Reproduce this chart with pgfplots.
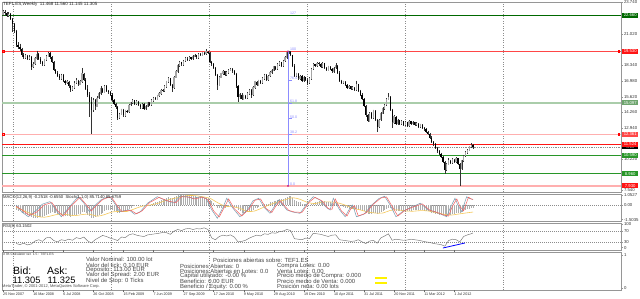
\documentclass[border=0pt]{standalone}
\usepackage{pgfplots}
\pgfplotsset{compat=1.18}
\usepackage{pgfplotstable}
\usepackage{fontspec}
\setmainfont{Liberation Sans}
\definecolor{dkgreen}{RGB}{0,105,0}
\definecolor{mgreen}{RGB}{40,150,40}
\definecolor{lgreen}{RGB}{170,205,170}
\definecolor{boxlgreen}{RGB}{110,165,110}
\definecolor{lred}{RGB}{255,175,175}
\definecolor{mred}{RGB}{255,70,70}
\definecolor{brred}{RGB}{255,20,20}
\definecolor{fibblue}{RGB}{140,140,255}
\definecolor{frame}{RGB}{150,150,150}
\definecolor{upgray}{RGB}{165,165,165}
\definecolor{stochblue}{RGB}{120,155,175}
\definecolor{stochred}{RGB}{245,95,95}
\definecolor{sigyellow}{RGB}{245,200,90}
\newcommand\fs[1]{\fontsize{#1}{#1}\selectfont}

\pgfplotstableread{
w o h l c
0 22.70 23.10 22.55 22.95
1 22.95 23.05 22.70 22.80
2 22.80 22.90 22.45 22.60
3 22.60 22.90 22.50 22.75
4 22.75 22.85 22.20 22.30
5 22.30 22.40 21.20 21.90
6 21.90 22.00 21.10 21.30
7 21.30 21.40 19.90 20.10
8 20.10 20.30 19.70 19.90
9 19.90 20.20 19.60 19.75
10 19.75 19.85 19.05 19.20
11 19.20 19.35 18.85 19.00
12 19.00 19.30 18.90 19.15
13 19.15 19.25 18.75 18.90
14 18.90 19.20 18.80 19.05
15 19.05 19.10 17.90 18.20
16 18.20 18.60 18.05 18.45
17 18.45 19.00 18.35 18.90
18 18.90 19.60 18.80 19.30
19 19.30 19.40 18.80 18.90
20 18.90 19.00 18.45 18.60
21 18.60 18.70 18.25 18.40
22 18.40 18.90 18.30 18.80
23 18.80 19.20 18.70 19.10
24 19.10 19.50 19.00 19.35
25 19.35 19.45 18.90 19.00
26 19.00 19.10 18.50 18.60
27 18.60 18.70 17.80 17.90
28 17.90 18.00 17.55 17.70
29 17.70 17.80 17.30 17.40
30 17.40 17.55 17.05 17.20
31 17.20 17.60 17.10 17.45
32 17.45 17.55 16.90 17.00
33 17.00 17.10 16.65 16.80
34 16.80 17.05 16.70 16.90
35 16.90 17.00 16.35 16.50
36 16.50 16.60 16.00 16.20
37 16.20 16.55 16.10 16.40
38 16.40 16.95 16.30 16.80
39 16.80 17.20 16.70 17.00
40 17.00 17.10 16.55 16.70
41 16.70 17.05 16.60 16.90
42 16.90 18.10 16.80 17.60
43 17.60 17.70 16.95 17.10
44 17.10 17.20 16.20 16.30
45 16.30 16.60 15.60 15.80
46 15.80 16.00 13.90 15.20
47 15.20 15.60 12.40 14.50
48 14.50 15.50 14.30 15.30
49 15.30 15.40 14.50 14.80
50 14.80 15.70 14.70 15.50
51 15.50 16.00 15.40 15.90
52 15.90 16.50 15.80 16.30
53 16.30 16.40 15.90 16.00
54 16.00 16.60 15.90 16.50
55 16.50 16.60 16.00 16.10
56 16.10 16.20 15.85 16.00
57 16.00 16.10 15.70 15.80
58 15.80 15.90 15.20 15.30
59 15.30 15.40 14.90 15.00
60 15.00 15.10 14.60 14.70
61 14.70 14.80 13.60 13.80
62 13.80 14.25 13.70 14.10
63 14.10 14.60 14.00 14.50
64 14.50 14.60 13.90 14.00
65 14.00 14.50 13.90 14.40
66 14.40 14.50 14.20 14.30
67 14.30 15.00 14.20 14.90
68 14.90 15.20 14.80 15.10
69 15.10 15.40 15.00 15.30
70 15.30 15.35 14.90 15.00
71 15.00 15.30 14.90 15.20
72 15.20 15.25 14.80 14.90
73 14.90 15.00 14.60 14.70
74 14.70 15.10 14.60 15.00
75 15.00 15.05 14.50 14.60
76 14.60 14.90 14.50 14.80
77 14.80 15.20 14.70 15.10
78 15.10 15.15 14.80 14.90
79 14.90 15.40 14.80 15.30
80 15.30 15.60 15.20 15.50
81 15.50 15.60 15.30 15.40
82 15.40 15.80 15.30 15.70
83 15.70 16.00 15.60 15.90
84 15.90 16.30 15.80 16.20
85 16.20 16.30 16.00 16.10
86 16.10 16.60 16.00 16.50
87 16.50 17.00 16.40 16.90
88 16.90 17.30 16.80 17.20
89 17.20 17.25 16.50 16.60
90 16.60 16.70 16.00 16.40
91 16.40 17.40 16.30 17.30
92 17.30 17.90 17.20 17.80
93 17.80 18.40 17.70 18.30
94 18.30 18.70 18.20 18.60
95 18.60 18.65 18.30 18.40
96 18.40 18.80 18.30 18.70
97 18.70 19.00 18.60 18.90
98 18.90 19.00 18.70 18.80
99 18.80 19.10 18.70 19.00
100 19.00 19.05 18.80 18.90
101 18.90 19.20 18.80 19.10
102 19.10 19.30 19.00 19.20
103 19.20 19.25 18.90 19.00
104 19.00 19.40 18.90 19.30
105 19.30 19.35 19.10 19.20
106 19.20 19.50 19.10 19.40
107 19.40 19.45 19.20 19.30
108 19.30 19.70 19.20 19.50
109 19.50 19.60 19.30 19.40
110 19.40 19.45 18.50 18.60
111 18.60 18.70 18.30 18.40
112 18.40 18.50 18.00 18.10
113 18.10 18.20 17.40 17.50
114 17.50 17.60 16.20 16.60
115 16.60 17.40 16.50 17.30
116 17.30 17.70 17.20 17.60
117 17.60 17.90 17.50 17.80
118 17.80 17.85 17.40 17.50
119 17.50 17.80 17.40 17.70
120 17.70 18.00 17.60 17.90
121 17.90 18.10 17.80 18.00
122 18.00 18.05 17.70 17.80
123 17.80 17.90 17.50 17.60
124 17.60 17.70 16.40 16.50
125 16.50 16.60 15.20 15.60
126 15.60 15.90 15.40 15.80
127 15.80 15.90 15.30 15.40
128 15.40 15.80 15.30 15.70
129 15.70 15.80 15.40 15.50
130 15.50 16.00 15.40 15.90
131 15.90 16.30 15.80 16.20
132 16.20 16.25 15.50 15.80
133 15.80 16.50 15.70 16.40
134 16.40 17.00 16.30 16.90
135 16.90 16.95 16.50 16.60
136 16.60 17.10 16.50 17.00
137 17.00 17.05 16.70 16.80
138 16.80 17.30 16.70 17.20
139 17.20 17.60 17.10 17.50
140 17.50 17.55 17.00 17.10
141 17.10 17.50 17.00 17.40
142 17.40 17.80 17.30 17.70
143 17.70 18.00 17.60 17.90
144 17.90 18.30 17.80 18.20
145 18.20 18.25 17.90 18.00
146 18.00 18.50 17.90 18.40
147 18.40 18.70 18.30 18.60
148 18.60 18.65 18.20 18.30
149 18.30 18.80 18.20 18.70
150 18.70 19.10 18.60 19.00
151 19.00 19.50 18.90 19.40
152 19.40 19.60 19.30 19.50
153 19.50 19.55 19.10 19.20
154 19.20 19.25 18.20 18.30
155 18.30 18.40 17.30 17.40
156 17.40 17.70 17.30 17.60
157 17.60 17.65 17.10 17.20
158 17.20 17.50 17.10 17.40
159 17.40 17.45 16.90 17.00
160 17.00 17.40 16.90 17.30
161 17.30 17.35 17.00 17.10
162 17.10 17.20 16.60 16.80
163 16.80 17.30 16.70 17.20
164 17.20 18.10 17.10 18.00
165 18.00 18.50 17.90 18.40
166 18.40 18.45 18.20 18.30
167 18.30 18.60 18.20 18.50
168 18.50 18.60 18.30 18.40
169 18.40 18.50 18.10 18.20
170 18.20 18.60 18.10 18.50
171 18.50 18.55 18.00 18.10
172 18.10 18.20 17.80 17.90
173 17.90 18.30 17.80 18.20
174 18.20 18.25 17.90 18.00
175 18.00 18.10 17.70 17.80
176 17.80 18.20 17.70 18.10
177 18.10 18.50 18.00 18.30
178 18.30 18.35 17.60 17.70
179 17.70 17.80 16.90 17.00
180 17.00 17.10 16.70 16.80
181 16.80 17.00 16.70 16.90
182 16.90 16.95 16.50 16.60
183 16.60 16.70 16.30 16.40
184 16.40 16.60 16.30 16.50
185 16.50 16.55 16.20 16.30
186 16.30 16.50 16.20 16.40
187 16.40 16.45 16.10 16.20
188 16.20 17.00 16.10 16.70
189 16.70 16.75 16.00 16.10
190 16.10 16.20 15.70 15.80
191 15.80 15.90 15.30 15.40
192 15.40 15.50 14.70 14.80
193 14.80 14.90 13.90 14.00
194 14.00 14.10 13.40 13.50
195 13.50 14.30 13.40 14.20
196 14.20 14.30 13.70 13.80
197 13.80 14.50 13.70 14.40
198 14.40 14.45 13.50 13.60
199 13.60 13.70 12.60 13.00
200 13.00 13.70 12.90 13.60
201 13.60 14.30 13.50 14.20
202 14.20 14.70 14.10 14.60
203 14.60 15.00 14.50 14.90
204 14.90 15.50 14.80 15.40
205 15.40 15.90 15.30 15.60
206 15.60 15.65 14.40 14.50
207 14.50 14.60 12.90 13.40
208 13.40 14.00 13.30 13.90
209 13.90 13.95 13.20 13.30
210 13.30 13.70 13.20 13.60
211 13.60 13.65 13.20 13.30
212 13.30 13.60 13.20 13.50
213 13.50 13.55 13.10 13.20
214 13.20 13.50 13.10 13.40
215 13.40 13.45 13.00 13.10
216 13.10 13.60 13.00 13.50
217 13.50 13.55 13.20 13.30
218 13.30 13.50 13.20 13.40
219 13.40 13.45 13.10 13.20
220 13.20 13.40 13.10 13.30
221 13.30 13.35 12.90 13.00
222 13.00 13.30 12.90 13.20
223 13.20 13.25 12.80 12.90
224 12.90 13.00 12.70 12.80
225 12.80 12.90 12.50 12.60
226 12.60 12.70 12.30 12.40
227 12.40 12.50 12.00 12.10
228 12.10 12.20 11.60 11.70
229 11.70 11.80 11.40 11.50
230 11.50 11.60 11.10 11.20
231 11.20 11.30 10.80 10.90
232 10.90 11.00 10.60 10.70
233 10.70 10.80 10.30 10.40
234 10.40 10.50 9.90 10.00
235 10.00 10.10 8.95 9.30
236 9.30 9.90 9.20 9.80
237 9.80 10.30 9.70 10.10
238 10.10 10.20 9.80 9.90
239 9.90 10.30 9.80 10.20
240 10.20 10.25 9.90 10.00
241 10.00 10.40 9.90 10.30
242 10.30 10.35 9.70 9.80
243 9.80 9.90 7.93 9.40
244 9.40 10.20 9.30 10.10
245 10.10 10.60 10.00 10.50
246 10.50 10.90 10.40 10.80
247 10.80 11.10 10.70 11.00
248 11.00 11.40 10.90 11.30
249 11.30 11.60 11.20 11.468
250 11.468 11.560 11.145 11.305
}\price

\pgfplotsset{panel/.style={
  scale only axis, width=619pt, xmin=-0.53, xmax=328.72, clip=false,
  axis line style={frame},
  xtick={5.3,57.6,109.7,161.9,214,266.3}, xticklabels={},
  xmajorgrids, major grid style={black!45, dash pattern=on 0.8pt off 1.6pt},
  xtick style={draw=none},
  ytick pos=right, yticklabel pos=right, tick align=outside,
  ytick style={draw=frame}, major tick length=2pt,
  yticklabel style={font=\fs{4.3}, text=black!80, inner sep=0.8pt},
}}

\begin{document}
\begin{tikzpicture}
\useasboundingbox (0,0) rectangle (640pt,299pt);
\fill[white] (0,0) rectangle (640pt,299pt);

% ---------------- main price panel
\begin{axis}[panel, at={(2pt,107pt)}, anchor=south west, height=190pt,
  ymin=7.404, ymax=23.783,
  ytick={23.74,21.02,18.34,16.98,15.62,14.26,12.94,10.22,7.54},
  yticklabels={23.740,21.020,18.340,16.980,15.620,14.260,12.940,10.220,7.540}]
% horizontal levels
\addplot[draw=lgreen, line width=1.8pt] coordinates {(-0.53,15.097) (328.72,15.097)};
\addplot[draw=lred, line width=1.8pt] coordinates {(-0.53,12.361) (328.72,12.361)};
\addplot[draw=lred, line width=1.8pt] coordinates {(-0.53,7.93) (328.72,7.93)};
\addplot[draw=dkgreen, line width=1pt] coordinates {(-0.53,22.66) (328.72,22.66)};
\addplot[draw=mred, line width=1.4pt] coordinates {(-0.53,19.53) (328.72,19.53)};
\addplot[draw=brred, line width=1.2pt] coordinates {(-0.53,11.524) (328.72,11.524)};
\addplot[draw=mgreen, line width=1pt] coordinates {(-0.53,10.59) (328.72,10.59)};
\addplot[draw=mgreen, line width=1pt] coordinates {(-0.53,8.96) (328.72,8.96)};
\addplot[draw=black!45, dash pattern=on 0.8pt off 1pt, line width=0.45pt] coordinates {(-0.53,11.305) (328.72,11.305)};
\addplot[only marks, mark=square, mark size=0.9pt, red, mark options={line width=0.5pt}] coordinates {(0,19.53) (327.5,19.53) (0,12.361) (327.5,12.361)};
% wicks
\addplot[draw=none, mark=none, error bars/.cd, y dir=minus, y explicit, error mark=none,
  error bar style={draw=black!80, line width=0.45pt}]
  table[x=w, y=h, y error minus expr=\thisrow{h}-\thisrow{l}]{\price};
% up bodies
\addplot[draw=none, mark=none, error bars/.cd, y dir=minus, y explicit, error mark=none,
  error bar style={draw=upgray, line width=1.2pt}]
  table[x=w, y expr=\thisrow{c}+0.03, y error minus expr={\thisrow{c}>=\thisrow{o} ? \thisrow{c}-\thisrow{o}+0.06 : 0}]{\price};
% down bodies
\addplot[draw=none, mark=none, error bars/.cd, y dir=minus, y explicit, error mark=none,
  error bar style={draw=black, line width=1.2pt}]
  table[x=w, y=o, y error minus expr={\thisrow{o}>\thisrow{c} ? \thisrow{o}-\thisrow{c} : 0}]{\price};
% fibonacci
\addplot[draw=fibblue, line width=0.4pt] coordinates {(151.6,19.53) (151.6,7.93)};
\addplot[draw=fibblue, line width=0.35pt] coordinates {(151.6,17.03) (153.6,17.03)};
\addplot[draw=fibblue, line width=0.35pt] coordinates {(151.6,15.10) (153.6,15.10)};
\addplot[draw=fibblue, line width=0.35pt] coordinates {(151.6,13.73) (153.6,13.73)};
\addplot[draw=fibblue, line width=0.35pt] coordinates {(151.6,12.36) (153.6,12.36)};
\addplot[only marks, mark=*, mark size=0.7pt, magenta!80!black] coordinates {(151.6,19.53) (151.6,7.93)};
\node[font=\fs{3.6}, text=fibblue, anchor=south west, inner sep=0.3pt] at (axis cs:152.5,22.66) {127};
\node[font=\fs{3.6}, text=fibblue, anchor=south west, inner sep=0.3pt] at (axis cs:152.5,19.53) {100};
\node[font=\fs{3.6}, text=fibblue, anchor=south west, inner sep=0.3pt] at (axis cs:152.5,17.03) {76.4};
\node[font=\fs{3.6}, text=fibblue, anchor=south west, inner sep=0.3pt] at (axis cs:152.5,15.10) {61.8};
\node[font=\fs{3.6}, text=fibblue, anchor=south west, inner sep=0.3pt] at (axis cs:152.5,13.73) {50.0};
\node[font=\fs{3.6}, text=fibblue, anchor=south west, inner sep=0.3pt] at (axis cs:152.5,12.36) {38.2};
\node[font=\fs{3.6}, text=fibblue, anchor=south west, inner sep=0.3pt] at (axis cs:152.5,7.93) {0.0};
% price boxes
\tikzset{pbox/.style={fill=#1, text=white, font=\fs{4.2}, inner sep=0.4pt, anchor=west, minimum width=16pt, minimum height=5pt, xshift=1pt}}
\node[pbox=dkgreen] at (axis cs:328.72,22.66) {22.660};
\node[pbox=brred] at (axis cs:328.72,19.53) {19.530};
\node[pbox=boxlgreen] at (axis cs:328.72,15.097) {15.097};
\node[pbox=mred] at (axis cs:328.72,12.361) {12.361};
\node[pbox=black, minimum height=3pt, font=\fs{2.5}] at (axis cs:328.72,11.23) {11.305};
\node[pbox=brred] at (axis cs:328.72,11.524) {11.524};
\node[pbox=mgreen] at (axis cs:328.72,10.59) {10.590};
\node[pbox=mgreen] at (axis cs:328.72,8.96) {8.960};
\node[pbox=brred] at (axis cs:328.72,7.93) {7.930};
\end{axis}

% ---------------- MACD panel
\begin{axis}[panel, at={(2pt,78pt)}, anchor=south west, height=27pt,
  ymin=-1.5035, ymax=1.0527,
  ytick={0.93,0,-1.37}, yticklabels={1.0527,0.00,-1.5035}]
\addplot[draw=black!45, dash pattern=on 0.8pt off 1.2pt, line width=0.4pt] coordinates {(-0.53,0) (328.72,0)};
\addplot[ycomb, draw=black!32, line width=0.4pt] coordinates {
(7,-0.50) (8,-0.55) (9,-0.60) (10,-0.70) (11,-0.75) (12,-0.85) (13,-0.95) (14,-1.00) (15,-1.15) (16,-1.25) (17,-1.25) (18,-1.20) (19,-1.15) (20,-1.15)
(21,-1.10) (22,-1.00) (23,-0.90) (24,-0.80) (25,-0.70) (26,-0.65) (27,-0.70) (28,-0.75) (29,-0.85) (30,-0.90) (31,-0.90) (32,-0.95) (33,-1.00) (34,-1.00)
(35,-1.05) (36,-1.10) (37,-1.05) (38,-0.95) (39,-0.90) (40,-0.85) (41,-0.80) (42,-0.65) (43,-0.65) (44,-0.75) (45,-0.90) (46,-1.05) (47,-1.20) (48,-1.20)
(49,-1.15) (50,-1.05) (51,-0.95) (52,-0.80) (53,-0.70) (54,-0.55) (55,-0.50) (56,-0.45) (57,-0.45) (58,-0.50) (59,-0.55) (60,-0.60) (61,-0.75) (62,-0.75)
(63,-0.65) (64,-0.65) (65,-0.55) (66,-0.50) (67,-0.35) (68,-0.25) (69,-0.10) (70,-0.05) (71,0.00) (72,0.00) (73,-0.05) (74,0.00) (75,-0.05) (76,0.00)
(77,0.05) (78,0.05) (79,0.15) (80,0.20) (81,0.25) (82,0.30) (83,0.35) (84,0.45) (85,0.50) (86,0.55) (87,0.65) (88,0.75) (89,0.70) (90,0.65)
(91,0.75) (92,0.85) (93,0.95) (94,1.00) (95,1.00) (96,1.00) (97,1.00) (98,0.95) (99,0.95) (100,0.90) (101,0.90) (102,0.85) (103,0.80) (104,0.80)
(105,0.75) (106,0.75) (107,0.70) (108,0.70) (109,0.65) (110,0.50) (111,0.35) (112,0.20) (113,0.00) (114,-0.25) (115,-0.30) (116,-0.30) (117,-0.25) (118,-0.25)
(119,-0.20) (120,-0.15) (121,-0.10) (122,-0.10) (123,-0.15) (124,-0.30) (125,-0.50) (126,-0.60) (127,-0.70) (128,-0.70) (129,-0.70) (130,-0.65) (131,-0.55) (132,-0.55)
(133,-0.45) (134,-0.30) (135,-0.25) (136,-0.15) (137,-0.10) (138,0.00) (139,0.10) (140,0.10) (141,0.15) (142,0.25) (143,0.30) (144,0.40) (145,0.40) (146,0.45)
(147,0.55) (148,0.55) (149,0.60) (150,0.70) (151,0.80) (152,0.85) (153,0.85) (154,0.70) (155,0.50) (156,0.40) (157,0.30) (158,0.25) (159,0.15) (160,0.15)
(161,0.10) (162,0.00) (163,0.00) (164,0.10) (165,0.20) (166,0.25) (167,0.30) (168,0.35) (169,0.35) (170,0.40) (171,0.35) (172,0.30) (173,0.30) (174,0.25)
(175,0.20) (176,0.20) (177,0.20) (178,0.15) (179,0.00) (180,-0.10) (181,-0.15) (182,-0.25) (183,-0.30) (184,-0.35) (185,-0.40) (186,-0.40) (187,-0.45) (188,-0.40)
(189,-0.45) (190,-0.50) (191,-0.55) (192,-0.60) (193,-0.70) (194,-0.80) (195,-0.80) (196,-0.80) (197,-0.75) (198,-0.75) (199,-0.80) (200,-0.75) (201,-0.65) (202,-0.55)
(203,-0.45) (204,-0.35) (205,-0.25) (206,-0.30) (207,-0.45) (208,-0.50) (209,-0.55) (210,-0.55) (211,-0.60) (212,-0.60) (213,-0.60) (214,-0.60) (215,-0.60) (216,-0.55)
(217,-0.55) (218,-0.50) (219,-0.50) (220,-0.45) (221,-0.50) (222,-0.50) (223,-0.50) (224,-0.55) (225,-0.55) (226,-0.60) (227,-0.65) (228,-0.70) (229,-0.75) (230,-0.80)
(231,-0.85) (232,-0.90) (233,-0.95) (234,-0.95) (235,-1.00) (236,-1.00) (237,-0.95) (238,-0.90) (239,-0.85) (240,-0.80) (241,-0.75) (242,-0.70) (243,-0.75) (244,-0.65)
(245,-0.55) (246,-0.45) (247,-0.40) (248,-0.35) (249,-0.30) (250,-0.25)};
\addplot[draw=sigyellow, line width=0.6pt, smooth] coordinates {
(7,-0.20) (10,-0.45) (14,-0.75) (18,-1.05) (22,-1.15) (26,-1.00) (30,-0.85) (34,-0.90) (38,-1.00) (42,-0.90) (46,-0.85) (50,-1.05) (54,-0.90) (58,-0.65)
(62,-0.60) (66,-0.60) (70,-0.35) (74,-0.10) (78,0.00) (82,0.15) (86,0.40) (90,0.60) (94,0.75) (98,0.90) (102,0.90) (106,0.80) (110,0.65) (114,0.25)
(118,-0.10) (122,-0.15) (126,-0.30) (130,-0.60) (134,-0.55) (138,-0.25) (142,0.05) (146,0.30) (150,0.50) (154,0.70) (158,0.55) (162,0.25) (166,0.15) (170,0.30)
(174,0.30) (178,0.22) (182,0.00) (186,-0.30) (190,-0.45) (194,-0.65) (198,-0.75) (202,-0.75) (206,-0.50) (210,-0.45) (214,-0.55) (218,-0.58) (222,-0.52) (226,-0.55)
(230,-0.70) (234,-0.85) (238,-0.95) (242,-0.85) (246,-0.75) (250,-0.655)};
\end{axis}
% stochastic overlay
\begin{axis}[scale only axis, width=619pt, height=27pt, at={(2pt,78pt)}, anchor=south west,
  xmin=-0.53, xmax=328.72, ymin=-10, ymax=110, hide axis, clip=false]
\addplot[draw=stochblue, line width=0.5pt] coordinates {
(7,61) (10,30) (13.5,9) (18,40) (21,65) (25,76) (28,40) (31,9) (35,50) (40,98) (43,70) (46,31) (49,60) (52,83) (55,95) (57,98) (60,60) (62,31)
(67,40) (70,20) (73,31) (77,70) (82,98) (87,80) (91,70) (94,100) (98,98) (101,90) (105,98) (108,91) (111,40) (114,2) (117,50) (119,91) (122,50)
(126,9) (130,40) (133,80) (136,91) (139,50) (142,24) (144,50) (146.5,83) (149,60) (151,39) (154,30) (158,24) (162,70) (165,98) (168.6,83)
(172,50) (174,39) (175.7,91) (179,40) (182,9) (184,40) (186,61) (188,9) (192,20) (196,60) (200,90) (203,100) (206,60) (209,9) (213,35)
(217,50) (222,69) (226,40) (230,30) (233,20) (236,9) (238,50) (240.4,91) (242,60) (244,31) (246.6,98) (248,90) (250,86)};
\addplot[draw=stochred, line width=0.5pt] coordinates {
(7,55) (10,40) (14,15) (18,30) (22,62) (26,72) (29,35) (32,12) (36,55) (41,95) (44,65) (47,35) (50,62) (53,85) (56,95) (58,92) (61,55) (63,33)
(68,38) (71,22) (74,35) (78,72) (83,95) (88,78) (92,72) (95,98) (99,96) (102,88) (106,96) (109,85) (112,35) (115,8) (118,55) (120,88) (123,45)
(127,12) (131,45) (134,82) (137,88) (140,45) (143,28) (145,55) (147.5,80) (150,55) (152,37) (155,30) (159,28) (163,75) (166,95) (169.6,80)
(173,45) (175,42) (176.7,88) (180,35) (183,12) (185,45) (187,58) (189,12) (193,25) (197,65) (201,92) (204,97) (207,55) (210,12) (214,38)
(218,52) (223,66) (227,38) (231,28) (234,18) (237,12) (239,55) (241.4,88) (243,55) (245,35) (247.6,96) (249,88) (250,85.7)};
\end{axis}

% ---------------- RSI panel
\begin{axis}[panel, at={(2pt,49pt)}, anchor=south west, height=27pt,
  ymin=0, ymax=100, ytick={96,70,30,9}, yticklabels={100,70,30,0}]
\addplot[draw=black!45, dash pattern=on 0.8pt off 1.2pt, line width=0.4pt] coordinates {(-0.53,70) (328.72,70)};
\addplot[draw=black!45, dash pattern=on 0.8pt off 1.2pt, line width=0.4pt] coordinates {(-0.53,30) (328.72,30)};
\addplot[draw=black!55, line width=0.45pt] coordinates {
(7,24) (9,20) (11,25) (13,19) (15,22) (17,33) (19,38) (21,32) (23,45) (25,47) (27,35) (29,30) (31,38) (33,35) (35,40) (37,36) (39,46) (41,42)
(43,48) (45,34) (47,26) (49,38) (51,46) (53,54) (55,50) (57,44) (59,40) (61,35) (63,48) (65,46) (67,56) (69,60) (71,55) (73,52) (75,50) (77,56)
(79,58) (81,60) (83,62) (85,65) (87,64) (89,58) (91,70) (93,76) (95,72) (97,78) (99,80) (101,76) (103,79) (105,78) (107,82) (109,76) (111,45)
(113,38) (115,50) (117,55) (119,52) (121,56) (123,48) (125,30) (127,32) (129,36) (131,44) (133,50) (135,55) (137,52) (139,60) (141,58) (143,64)
(145,62) (147,68) (149,70) (151,76) (153,72) (155,42) (157,40) (159,38) (161,44) (163,42) (165,62) (167,60) (169,58) (171,54) (173,50) (175,55)
(177,56) (179,38) (181,36) (183,34) (185,32) (187,33) (189,38) (191,30) (193,24) (195,33) (197,36) (199,25) (201,45) (203,52) (205,60) (207,36)
(209,40) (211,38) (213,36) (215,37) (217,40) (219,38) (221,36) (223,33) (225,30) (227,28) (229,24) (231,22) (233,20) (235,14) (237,35) (239,40)
(241,38) (243,30) (245,50) (247,56) (249,60) (250,63.15)};
\addplot[draw=blue, line width=0.8pt] coordinates {(234,7.4) (245.7,25.9)};
\end{axis}

% ---------------- XTB panel
\begin{axis}[panel, at={(2pt,9pt)}, anchor=south west, height=38pt,
  ymin=0, ymax=1, ytick={0.92,0.06}, yticklabels={1,0},
  extra x ticks={0,16,32,48,64,80,96,112,128,144,160,176,192,208,224,240},
  extra x tick labels={25 Nov 2007,16 Mar 2008,6 Jul 2008,26 Oct 2008,15 Feb 2009,7 Jun 2009,27 Sep 2009,17 Jan 2010,9 May 2010,29 Aug 2010,19 Dec 2010,10 Apr 2011,31 Jul 2011,20 Nov 2011,11 Mar 2012,1 Jul 2012},
  extra x tick style={grid=none, xtick style={draw=black!60}, xticklabel style={anchor=north west, font=\fs{3.7}, text=black!80, inner sep=0.5pt, xshift=-0.5pt}}]
\addplot[draw=none] coordinates {(0,0.5)};
\end{axis}

% ---------------- texts
\node[anchor=west, inner sep=0, font=\fs{4.5}, text=black!85] at (3pt,294.5pt) {TEF1.ES,Weekly\ \ 11.468 11.560 11.145 11.305};
\node[anchor=west, inner sep=0, font=\fs{4.2}, text=black!85] at (3pt,101.5pt) {MACD(12,26,9) -0.2518 -0.6550\ \ Stoch(1,1,0) 85.7140 85.6759};
\node[anchor=west, inner sep=0, font=\fs{4.2}, text=black!85] at (3pt,72.5pt) {RSI(8) 63.1502};
\begin{scope}
\clip (2pt,9pt) rectangle (621pt,47pt);
\node[anchor=west, inner sep=0, font=\fs{3.3}, text=black!80] at (3pt,44.5pt) {XTB Calculator ver. 1.5 : TEF1.ES};
\node[anchor=west, inner sep=0, font=\fs{10.5}] at (13pt,28.3pt) {Bid:};
\node[anchor=west, inner sep=0, font=\fs{10.5}] at (47pt,28.3pt) {Ask:};
\node[anchor=west, inner sep=0, font=\fs{9.3}] at (12.5pt,18.5pt) {11.305};
\node[anchor=west, inner sep=0, font=\fs{9.3}] at (47.5pt,18.5pt) {11.325};
\node[anchor=west, inner sep=0, font=\fs{4}, text=black!70] at (2pt,12.5pt) {MetaTrader, \textcopyright{} 2001-2012, MetaQuotes Software Corp.};
\tikzset{xt/.style={anchor=west, inner sep=0, font=\fs{5.9}, text=black!72}}
\node[xt] at (86pt,39.7pt) {Valor Nominal: 100.00 lot};
\node[xt] at (86pt,34pt) {Valor del tick: 0.10 EUR};
\node[xt] at (86pt,29pt) {Deposito: 113.00 EUR};
\node[xt] at (86pt,23.7pt) {Valor del Spread: 2.00 EUR};
\node[xt] at (86pt,18.3pt) {Nivel de Stop: 0 Ticks};
\node[xt] at (213pt,38.5pt) {Posiciones abiertas sobre: TEF1.ES};
\node[xt] at (180pt,33pt) {Posiciones Abiertas: 0};
\node[xt] at (180pt,28pt) {Posiciones Abiertas en Lotes: 0.0};
\node[xt] at (180pt,23pt) {Capital utilizado: -0.00 \%};
\node[xt] at (180pt,17.8pt) {Beneficio: 0.00 EUR};
\node[xt] at (180pt,12.5pt) {Beneficio / Equity: 0.00 \%};
\node[xt] at (277pt,33pt) {Compra Lotes: 0.00};
\node[xt] at (277pt,28pt) {Venta Lotes: 0.00};
\node[xt] at (277pt,23pt) {Precio medio de Compra: 0.000};
\node[xt] at (277pt,17.8pt) {Precio medio de Venta: 0.000};
\node[xt] at (277pt,12.5pt) {Posici\'on neta: 0.00 lots};
\fill[yellow] (375pt,19.8pt) rectangle (387pt,21.5pt);
\fill[yellow] (375pt,15pt) rectangle (387pt,17pt);
\end{scope}
\end{tikzpicture}
\end{document}
